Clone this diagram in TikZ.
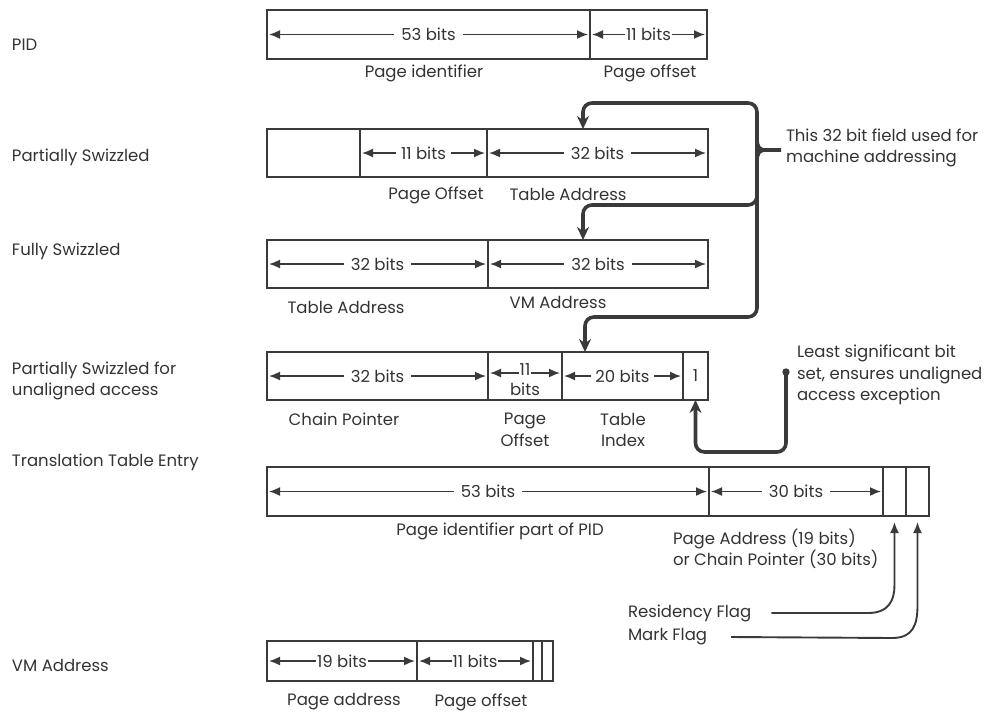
\documentclass[tikz,border=0pt]{standalone}
\usepackage{fontspec}
\setmainfont{Poppins}
\usetikzlibrary{arrows.meta,calc,fit}
\definecolor{ln}{HTML}{3A3A3A}
\definecolor{txt}{HTML}{333333}
\newcommand\mkfield[5]{\node[field, fit={(#2,#3)(#4,#5)}] (#1) {};}
\begin{document}
\begin{tikzpicture}[x=1pt,y=-1pt,
  every node/.style={font=\fontsize{16.5}{21.5}\selectfont, text=txt, inner sep=0pt, outer sep=0pt},
  field/.style={draw=ln, line width=1.4pt, rectangle, inner sep=0pt, outer sep=0pt},
  bitarr/.style={draw=ln, line width=1.6pt, {Latex[length=11pt,width=9pt]}-{Latex[length=11pt,width=9pt]}, shorten <=2pt, shorten >=2pt},
  lbl/.style={fill=white, inner xsep=7pt, inner ysep=1pt},
  thickarr/.style={draw=ln, line width=3.6pt, rounded corners=9pt, -{Stealth[length=13pt,width=12pt]}},
  flagarr/.style={draw=ln, line width=1.9pt, -{Latex[length=11pt,width=9pt]}, shorten >=6pt},
  lefttxt/.style={anchor=west, align=left}
]
\useasboundingbox (0,0) rectangle (1004,716);

% ---- left labels
\node[lefttxt] (lpid) at (12,45) {PID};
\node[lefttxt] (lps) at (12,157) {Partially Swizzled};
\node[lefttxt] (lfs) at (12,251) {Fully Swizzled};
\node[lefttxt] (lpu) at (12,381) {Partially Swizzled for\\unaligned access};
\node[lefttxt] (ltte) at (12,462) {Translation Table Entry};
\node[lefttxt] (lvm) at (12,665) {VM Address};

% ---- PID
\mkfield{pid1}{267}{10}{590}{59}
\mkfield{pid2}{590}{10}{707}{59}
\draw[bitarr] (pid1.west) -- (pid1.east) node[midway,lbl] {53 bits};
\draw[bitarr] (pid2.west) -- (pid2.east) node[midway,lbl,inner xsep=1pt] {11 bits};
\node (pidA) at (424,73) {Page identifier};
\node (pidB) at (650,73) {Page offset};

% ---- Partially swizzled
\mkfield{ps1}{267}{129}{360}{177}
\mkfield{ps2}{360}{129}{487}{177}
\mkfield{ps3}{487}{129}{708}{177}
\draw[bitarr] (ps2.west) -- (ps2.east) node[midway,lbl,inner xsep=5pt] {11 bits};
\draw[bitarr] (ps3.west) -- (ps3.east) node[midway,lbl] {32 bits};
\node (psA) at (436,195) {Page Offset};
\node (psB) at (568,194) {Table Address};

% ---- Fully swizzled
\mkfield{fs1}{267}{240}{488}{288}
\mkfield{fs2}{488}{240}{708}{288}
\draw[bitarr] (fs1.west) -- (fs1.east) node[midway,lbl] {32 bits};
\draw[bitarr] (fs2.west) -- (fs2.east) node[midway,lbl] {32 bits};
\node (fsA) at (346,307) {Table Address};
\node (fsB) at (558,302) {VM Address};

% ---- Partially swizzled for unaligned access
\mkfield{pu1}{267}{352}{488}{400}
\mkfield{pu2}{488}{352}{562}{400}
\mkfield{pu3}{562}{352}{683}{400}
\mkfield{pu4}{683}{352}{708}{400}
\draw[bitarr] (pu1.west) -- (pu1.east) node[midway,lbl] {32 bits};
\draw[bitarr] ([yshift=3pt]pu2.west) -- ([yshift=3pt]pu2.east) node[midway,lbl,inner xsep=1pt,yshift=3pt] {11};
\node (pubits) at (525,389) {bits};
\draw[bitarr] (pu3.west) -- (pu3.east) node[midway,lbl,inner xsep=4pt] {20 bits};
\node (puone) at (pu4.center) {1};
\node (puA) at (344,419) {Chain Pointer};
\node[align=center] (puB) at (525,430) {Page\\Offset};
\node[align=center] (puC) at (623,430) {Table\\Index};

% ---- Translation table entry
\mkfield{t1}{267}{467}{709}{516}
\mkfield{t2}{709}{467}{883}{516}
\mkfield{t3}{883}{467}{906}{516}
\mkfield{t4}{906}{467}{929}{516}
\draw[bitarr] (t1.west) -- (t1.east) node[midway,lbl] {53 bits};
\draw[bitarr] (t2.west) -- (t2.east) node[midway,lbl] {30 bits};
\node (tA) at (500,531) {Page identifier part of PID};
\node[anchor=north west, align=left] (tB) at (673,529) {Page Address (19 bits)\\or Chain Pointer (30 bits)};

% ---- VM address
\mkfield{v1}{267}{641}{417}{681}
\mkfield{v2}{417}{641}{533}{681}
\mkfield{v3}{533}{641}{542}{681}
\mkfield{v4}{542}{641}{553}{681}
\draw[bitarr] (v1.west) -- (v1.east) node[midway,lbl,inner xsep=1pt] {19 bits};
\draw[bitarr] (v2.west) -- (v2.east) node[midway,lbl,inner xsep=1pt] {11 bits};
\node (vA) at (344,702) {Page address};
\node (vB) at (481,702) {Page offset};

% ---- 32 bit field bracket
\coordinate (brTop) at (757,103);
\coordinate (brMid) at (757,205);
\coordinate (brBot) at (757,317);
\coordinate (nubEnd) at (781,150);
\coordinate (a1) at (583,103);
\coordinate (a2) at (583,205);
\coordinate (a3) at (585,317);
\node[anchor=west, align=left] (note32) at (786,148) {This 32 bit field used for\\machine addressing};
\draw[thickarr] (brMid) -- (brTop) -- (a1) -- (a1 |- ps3.north);
\draw[thickarr] ($(brMid)+(0,-15)$) -- (brMid) -- (a2) -- (a2 |- fs2.north);
\draw[thickarr] ($(brMid)+(0,-15)$) -- (brBot) -- (a3) -- (a3 |- pu3.north);
\draw[draw=ln, line width=3.6pt] (757,138) .. controls (757,147) and (759,150) .. (766,150) -- (nubEnd);
\draw[draw=ln, line width=3.6pt] (757,162) .. controls (757,153) and (759,150) .. (766,150);

% ---- least significant bit note
\coordinate (dot) at (786,372);
\node[anchor=west, align=left] (noteLSB) at (797,375) {Least significant bit\\set, ensures unaligned\\access exception};
\fill[ln] (dot) circle (3.7pt);
\draw[thickarr] (dot) -- (786,452) -- (pu4.south |- 0,452) -- (pu4.south);

% ---- flags
\node[anchor=west] (res) at (628,613) {Residency Flag};
\node[anchor=west] (mark) at (628,637) {Mark Flag};
\draw[flagarr] ([xshift=20pt]res.east) -- (868,613) .. controls (889,613) and (t3.south |- 0,600) .. (t3.south |- 0,585) -- (t3.south);
\draw[flagarr] ([xshift=24pt]mark.east) -- (892,638) .. controls (913,638) and (t4.south |- 0,625) .. (t4.south |- 0,605) -- (t4.south);
\end{tikzpicture}
\end{document}
